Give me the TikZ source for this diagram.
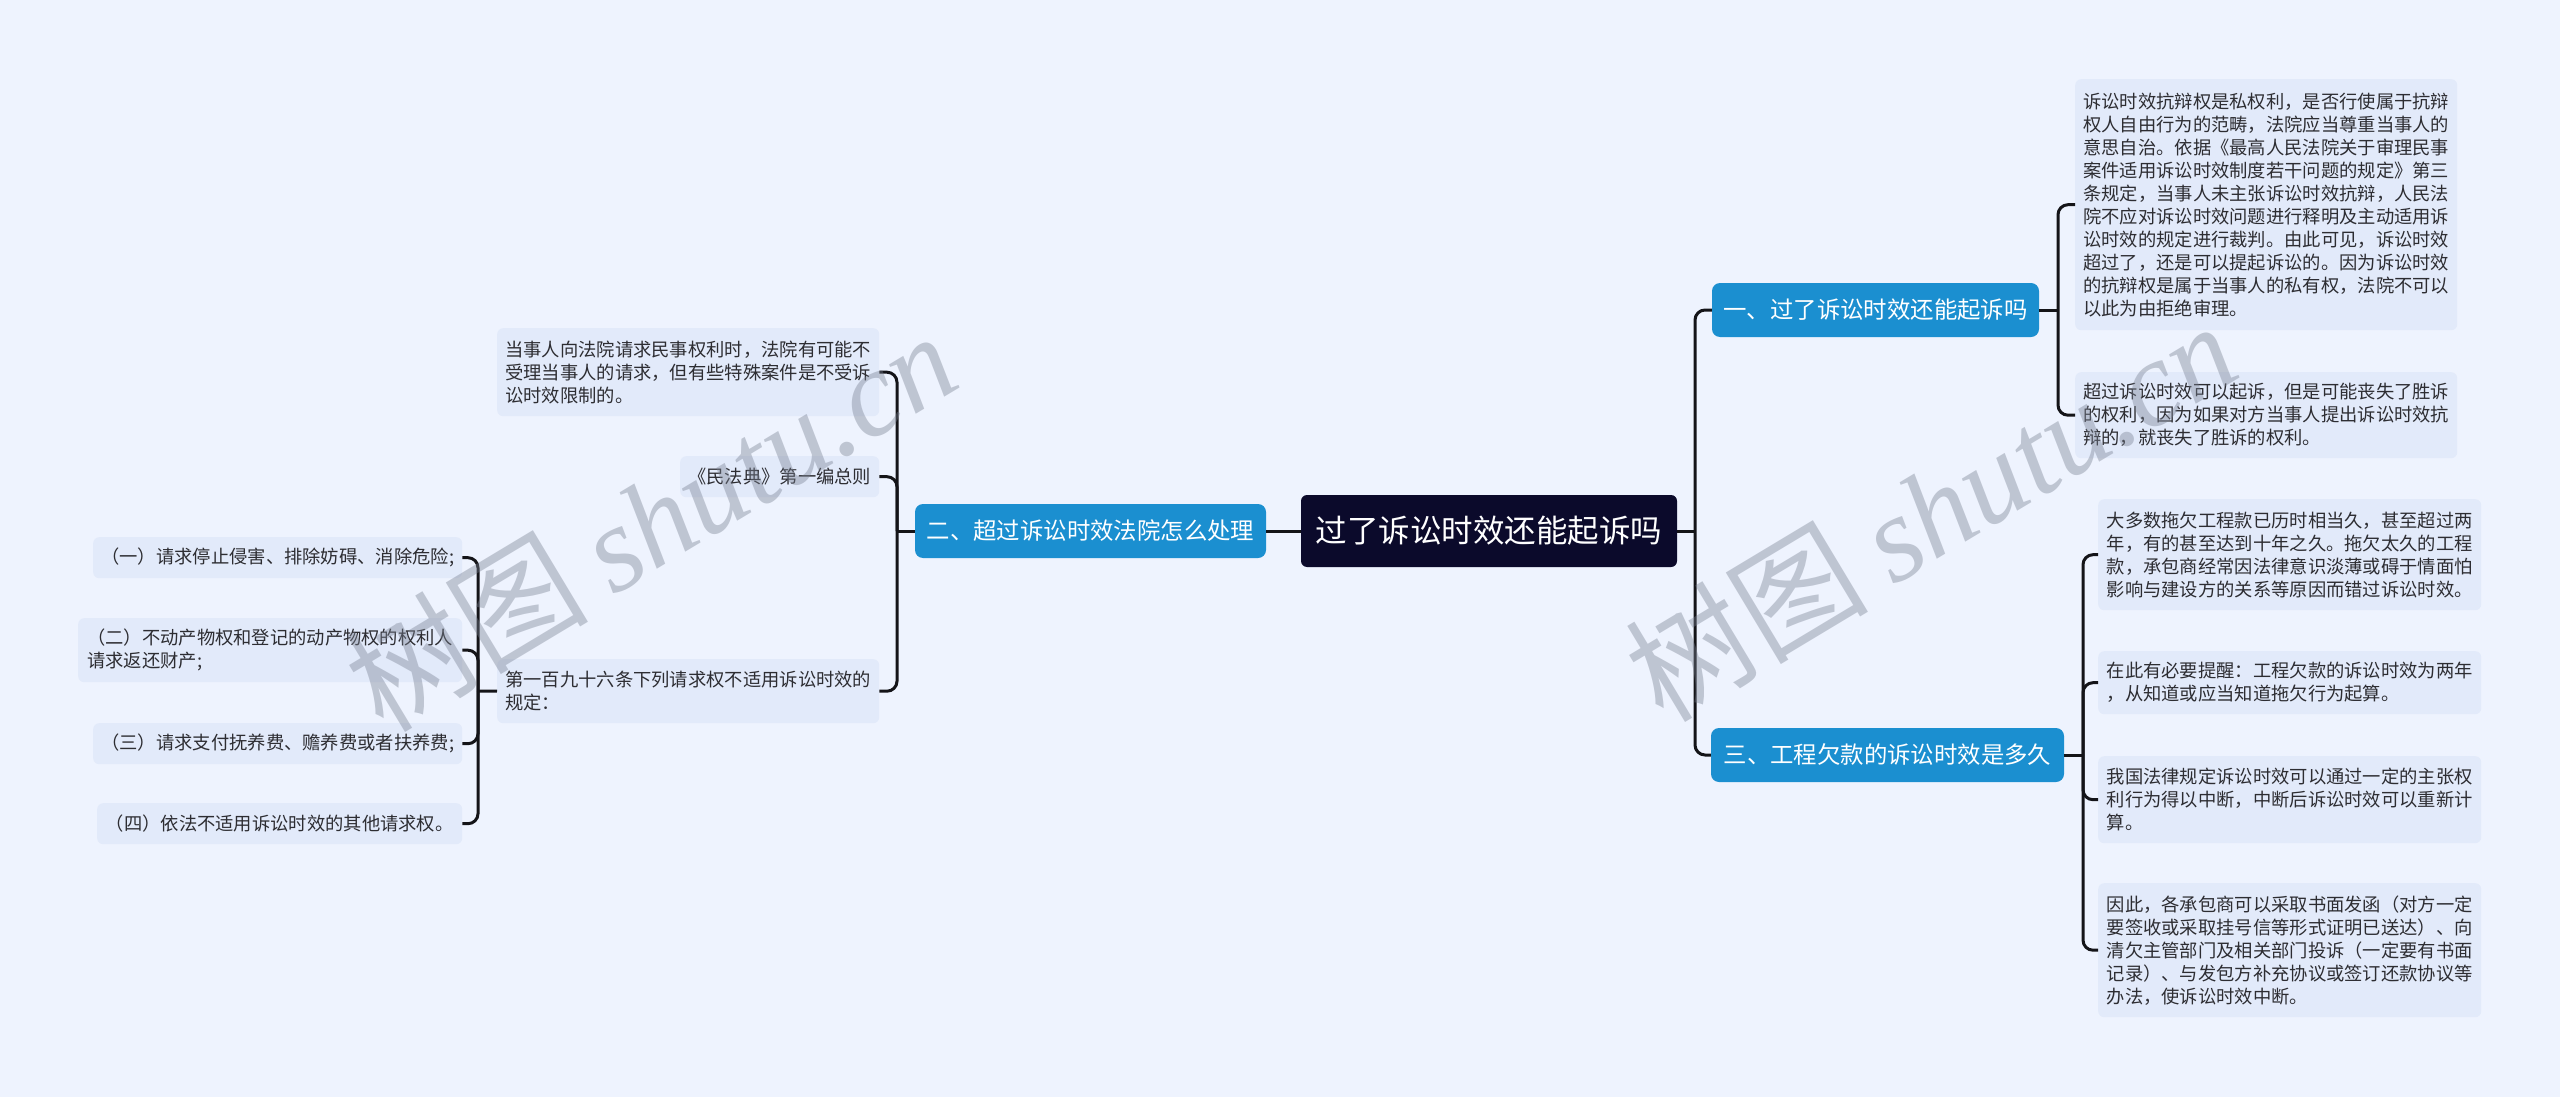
\documentclass[tikz,border=0pt]{standalone}
\usepackage{fontspec}
\newfontfamily\cjk{Noto Sans CJK SC}
\newfontfamily\wmserif{Liberation Serif}
\definecolor{bgcol}{RGB}{238,243,254}
\definecolor{leaffill}{RGB}{226,234,250}
\definecolor{branchblue}{RGB}{27,143,208}
\definecolor{rootnavy}{RGB}{11,10,43}
\definecolor{linecol}{RGB}{20,20,24}
\definecolor{leaftext}{RGB}{45,45,50}
\definecolor{wmcol}{RGB}{120,128,145}
\begin{document}
\begin{tikzpicture}[x=1pt,y=-1pt,
  leaf/.style={fill=leaffill, rounded corners=6pt, inner sep=0pt, align=left,
    text=leaftext, font=\cjk\fontsize{18.3}{23}\selectfont, anchor=north west},
  branch/.style={fill=branchblue, rounded corners=8pt, inner sep=0pt, text=white,
    font=\cjk\fontsize{23.4}{28}\selectfont, minimum height=54pt},
  rootbox/.style={fill=rootnavy, rounded corners=6pt, inner sep=0pt, text=white,
    font=\cjk\fontsize{31.5}{36}\selectfont, minimum height=72pt, minimum width=376pt},
  conn/.style={draw=linecol, line width=3pt, rounded corners=10pt},
  wmark/.style={text=wmcol, opacity=0.4, font=\fontsize{122}{130}\selectfont, inner sep=0pt}]
\fill[bgcol] (0,0) rectangle (2560,1097);
\useasboundingbox (0,0) rectangle (2560,1097);

% root and branches
\node[rootbox] (root) at (1489,531) {过了诉讼时效还能起诉吗};
\node[branch, minimum width=327pt] (b1) at (1875.5,310) {一、过了诉讼时效还能起诉吗};
\node[branch, minimum width=353pt] (b3) at (1887.5,755) {三、工程欠款的诉讼时效是多久};
\node[branch, minimum width=351pt] (b2) at (1090.5,531) {二、超过诉讼时效法院怎么处理};

% branch 1 leaves
\node[leaf, minimum width=382pt, minimum height=251pt] (l11) at (2075,79) {诉讼时效抗辩权是私权利，是否行使属于抗辩\\权人自由行为的范畴，法院应当尊重当事人的\\意思自治。依据《最高人民法院关于审理民事\\案件适用诉讼时效制度若干问题的规定》第三\\条规定，当事人未主张诉讼时效抗辩，人民法\\院不应对诉讼时效问题进行释明及主动适用诉\\讼时效的规定进行裁判。由此可见，诉讼时效\\超过了，还是可以提起诉讼的。因为诉讼时效\\的抗辩权是属于当事人的私有权，法院不可以\\以此为由拒绝审理。};
\node[leaf, minimum width=382pt, minimum height=86pt] (l12) at (2075,372) {超过诉讼时效可以起诉，但是可能丧失了胜诉\\的权利，因为如果对方当事人提出诉讼时效抗\\辩的，就丧失了胜诉的权利。};

% branch 3 leaves
\node[leaf, minimum width=383pt, minimum height=111pt] (l31) at (2098,499) {大多数拖欠工程款已历时相当久，甚至超过两\\年，有的甚至达到十年之久。拖欠太久的工程\\款，承包商经常因法律意识淡薄或碍于情面怕\\影响与建设方的关系等原因而错过诉讼时效。};
\node[leaf, minimum width=383pt, minimum height=63pt] (l32) at (2098,651) {在此有必要提醒：工程欠款的诉讼时效为两年\\，从知道或应当知道拖欠行为起算。};
\node[leaf, minimum width=383pt, minimum height=87pt] (l33) at (2098,756) {我国法律规定诉讼时效可以通过一定的主张权\\利行为得以中断，中断后诉讼时效可以重新计\\算。};
\node[leaf, minimum width=383pt, minimum height=134pt] (l34) at (2098,883) {因此，各承包商可以采取书面发函（对方一定\\要签收或采取挂号信等形式证明已送达）、向\\清欠主管部门及相关部门投诉（一定要有书面\\记录）、与发包方补充协议或签订还款协议等\\办法，使诉讼时效中断。};

% branch 2 leaves
\node[leaf, minimum width=382pt, minimum height=88pt] (l21) at (497,328) {当事人向法院请求民事权利时，法院有可能不\\受理当事人的请求，但有些特殊案件是不受诉\\讼时效限制的。};
\node[leaf, minimum width=199pt, minimum height=41pt] (l22) at (680,456) {《民法典》第一编总则};
\node[leaf, minimum width=382pt, minimum height=64pt] (l23) at (497,659) {第一百九十六条下列请求权不适用诉讼时效的\\规定：};

% sub-leaves
\node[leaf, minimum width=369pt, minimum height=41pt] (s1) at (93,537) {（一）请求停止侵害、排除妨碍、消除危险;};
\node[leaf, minimum width=384pt, minimum height=64pt] (s2) at (78,618) {（二）不动产物权和登记的动产物权的权利人\\请求返还财产;};
\node[leaf, minimum width=369pt, minimum height=41pt] (s3) at (93,723) {（三）请求支付抚养费、赡养费或者扶养费;};
\node[leaf, minimum width=365pt, minimum height=41pt] (s4) at (97,803) {（四）依法不适用诉讼时效的其他请求权。};

% junction points
\coordinate (j1) at (1695,531);
\coordinate (j2) at (897,531);
\coordinate (j3) at (2058,310);
\coordinate (j4) at (2083,755);
\coordinate (j5) at (478,691);

% connectors
\draw[conn] (root.east) -- (j1);
\draw[conn] (b1.west) -| (j1) |- (b3.west);
\draw[conn] (root.west) -- (b2.east);

\draw[conn] (b2.west) -- (j2);
\draw[conn] (l21.east) -| (j2) |- (l23.east);
\draw[conn] (l22.east) -| (j2);

\draw[conn] (b1.east) -- (j3);
\draw[conn] (l11.west) -| (j3) |- (l12.west);

\draw[conn] (b3.east) -- (j4);
\draw[conn] (l31.west) -| (j4) |- (l34.west);
\draw[conn] (l32.west) -| (j4);
\draw[conn] (l33.west) -| (j4);

\draw[conn] (l23.west) -- (j5);
\draw[conn] (s1.east) -| (j5) |- (s4.east);
\draw[conn] (s2.east) -| (j5);
\draw[conn] (s3.east) -| (j5);

% watermarks
\node[wmark, rotate=31] (wm1) at (650,520) {\cjk 树图\hspace{24pt}\wmserif\itshape shutu.cn};
\node[wmark, rotate=31] (wm2) at (1930,510) {\cjk 树图\hspace{24pt}\wmserif\itshape shutu.cn};
\end{tikzpicture}
\end{document}
